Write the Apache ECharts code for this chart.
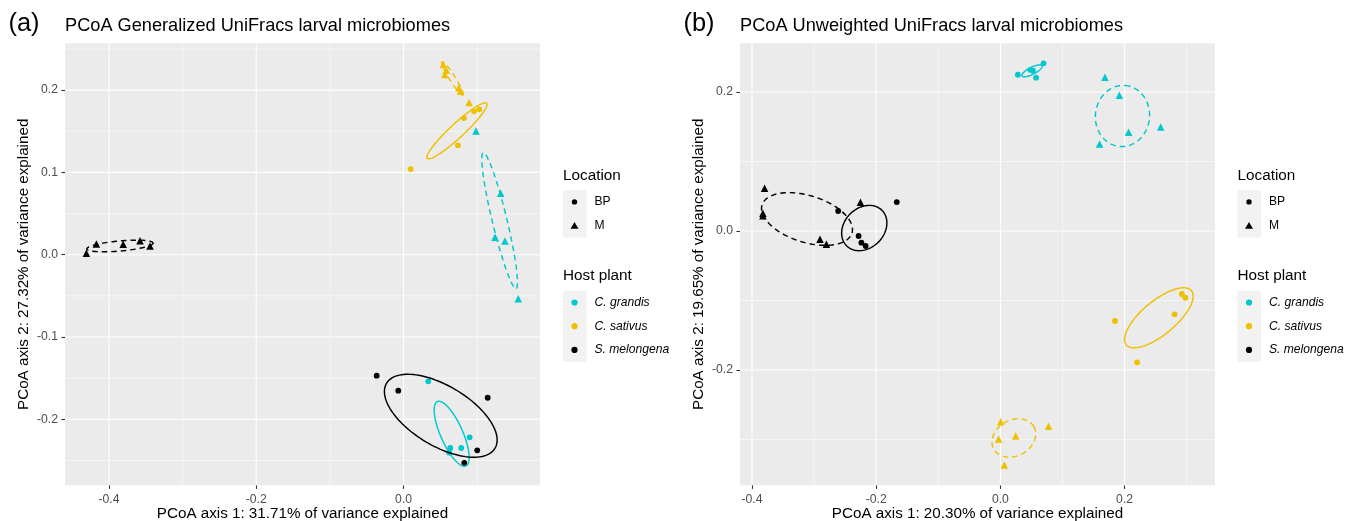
<!DOCTYPE html>
<html>
<head>
<meta charset="utf-8">
<script src="https://cdn.jsdelivr.net/npm/echarts@6/dist/echarts.min.js"></script>
<style>
  html, body { margin: 0; padding: 0; background: #ffffff; }
  #chart { width: 1357px; height: 521px; }
</style>
</head>
<body>
<div id="chart"></div>
<script>
// ---------- factor levels ----------
const hostLevels = ['C. grandis', 'C. sativus', 'S. melongena'];
const locationLevels = ['BP', 'M'];

// ---------- (a) Generalized UniFrac PCoA: sample coordinates [axis1, axis2] ----------
const genGrandisBP   = [[0.0335, -0.1538], [0.0897, -0.2219], [0.0783, -0.2349], [0.0634, -0.2349], [0.0620, -0.2406]];
const genGrandisM    = [[0.0983, 0.1503], [0.1318, 0.0746], [0.1241, 0.0211], [0.1376, 0.0166], [0.1557, -0.0535]];
const genSativusBP   = [[0.0820, 0.1660], [0.0956, 0.1742], [0.1028, 0.1767], [0.0738, 0.1329], [0.0096, 0.1041]];
const genSativusM    = [[0.054, 0.231], [0.058, 0.224], [0.056, 0.219], [0.075, 0.203], [0.077, 0.199], [0.089, 0.185]];
const genMelongenaBP = [[-0.0365, -0.1470], [-0.0072, -0.1652], [0.1142, -0.1738], [0.1000, -0.2377], [0.0824, -0.2531]];
const genMelongenaM  = [[-0.4306, 0.0017], [-0.4170, 0.0130], [-0.3806, 0.0126], [-0.3578, 0.0170], [-0.3442, 0.0106]];

// 95% ellipses: [centre x, centre y, major-axis end x, y, minor-axis end x, y]
const genEllipseGrandisBP   = [0.0653, -0.2176, 0.0847, -0.2567, 0.0516, -0.2231];
const genEllipseGrandisM    = [0.1304, 0.0416, 0.1526, -0.0408, 0.1401, 0.0436];
const genEllipseSativusBP   = [0.0725, 0.1505, 0.1128, 0.1840, 0.0790, 0.1443];
const genEllipseSativusM    = [0.0664, 0.2141, 0.0806, 0.1940, 0.0698, 0.2160];
const genEllipseMelongenaBP = [0.0505, -0.1957, 0.1241, -0.2352, 0.0296, -0.2270];
const genEllipseMelongenaM  = [-0.3850, 0.0106, -0.3400, 0.0142, -0.3844, 0.0045];

const genXRange = [-0.4596, 0.1852];
const genYRange = [-0.2802, 0.2569];
const genXTicks = [-0.4, -0.2, 0.0];
const genYTicks = [-0.2, -0.1, 0.0, 0.1, 0.2];
const genXMinor = [-0.3, -0.1, 0.1];
const genYMinor = [-0.25, -0.15, -0.05, 0.05, 0.15, 0.25];

// ---------- (b) Unweighted UniFrac PCoA ----------
const unwGrandisBP   = [[0.0282, 0.2249], [0.0523, 0.2306], [0.0480, 0.2320], [0.0575, 0.2206], [0.0696, 0.2413]];
const unwGrandisM    = [[0.1684, 0.2211], [0.1915, 0.1952], [0.2064, 0.1420], [0.2581, 0.1496], [0.1597, 0.1252]];
const unwSativusBP   = [[0.2921, -0.0906], [0.2979, -0.0960], [0.2805, -0.1199], [0.1845, -0.1295], [0.2202, -0.1889]];
const unwSativusM    = [[0.0005, -0.2744], [-0.0029, -0.2993], [0.0246, -0.2950], [0.0776, -0.2810], [0.0063, -0.3367]];
const unwMelongenaBP = [[-0.2612, 0.0288], [-0.1668, 0.0417], [-0.2283, -0.0072], [-0.2238, -0.0168], [-0.2169, -0.0216]];
const unwMelongenaM  = [[-0.3797, 0.0614], [-0.3825, 0.0255], [-0.3825, 0.0220], [-0.2905, -0.0120], [-0.2802, -0.0191], [-0.2254, 0.0413]];

const unwEllipseGrandisBP   = [0.0510, 0.2305, 0.0671, 0.2378, 0.0536, 0.2260];
const unwEllipseGrandisM    = [0.1966, 0.1655, 0.2006, 0.2094, 0.2401, 0.1626];
const unwEllipseSativusBP   = [0.2552, -0.1249, 0.3076, -0.0859, 0.2726, -0.1435];
const unwEllipseSativusM    = [0.0217, -0.2978, 0.0538, -0.2813, 0.0362, -0.3200];
const unwEllipseMelongenaBP = [-0.2192, 0.0043, -0.1907, 0.0298, -0.1965, -0.0160];
const unwEllipseMelongenaM  = [-0.3114, 0.0173, -0.2390, -0.0029, -0.3003, 0.0494];

const unwXRange = [-0.4193, 0.3456];
const unwYRange = [-0.3659, 0.2701];
const unwXTicks = [-0.4, -0.2, 0.0, 0.2];
const unwYTicks = [-0.2, 0.0, 0.2];
const unwXMinor = [-0.3, -0.1, 0.1, 0.3];
const unwYMinor = [-0.3, -0.1, 0.1];

// ---------- styling ----------
const hostColors = ['#00C8CC', '#EFC000', '#000000'];
const FONT = '"Liberation Sans", Arial, Helvetica, sans-serif';

const panels = [
  {
    tag: '(a)', title: 'PCoA Generalized UniFracs larval microbiomes',
    xName: 'PCoA axis 1: 31.71% of variance explained',
    yName: 'PCoA axis 2: 27.32% of variance explained',
    left: 65, legendX: 563,
    xRange: genXRange, yRange: genYRange,
    xTicks: genXTicks, yTicks: genYTicks, xMinor: genXMinor, yMinor: genYMinor,
    groups: [
      [0, 0, genGrandisBP, genEllipseGrandisBP], [0, 1, genGrandisM, genEllipseGrandisM],
      [1, 0, genSativusBP, genEllipseSativusBP], [1, 1, genSativusM, genEllipseSativusM],
      [2, 0, genMelongenaBP, genEllipseMelongenaBP], [2, 1, genMelongenaM, genEllipseMelongenaM]
    ]
  },
  {
    tag: '(b)', title: 'PCoA Unweighted UniFracs larval microbiomes',
    xName: 'PCoA axis 1: 20.30% of variance explained',
    yName: 'PCoA axis 2: 19.65% of variance explained',
    left: 740, legendX: 1237.5,
    xRange: unwXRange, yRange: unwYRange,
    xTicks: unwXTicks, yTicks: unwYTicks, xMinor: unwXMinor, yMinor: unwYMinor,
    groups: [
      [0, 0, unwGrandisBP, unwEllipseGrandisBP], [0, 1, unwGrandisM, unwEllipseGrandisM],
      [1, 0, unwSativusBP, unwEllipseSativusBP], [1, 1, unwSativusM, unwEllipseSativusM],
      [2, 0, unwMelongenaBP, unwEllipseMelongenaBP], [2, 1, unwMelongenaM, unwEllipseMelongenaM]
    ]
  }
];

const grids = [], xAxes = [], yAxes = [], series = [], graphics = [];
const fmt = v => v.toFixed(1);

panels.forEach((p, i) => {
  grids.push({ left: p.left, top: 43.3, width: 475, height: 442, show: true,
               backgroundColor: '#EBEBEB', borderWidth: 0, containLabel: false,
               outerBoundsMode: 'none' });

  const tickStyle = { color: '#333333', width: 1.1 };
  const labelStyle = { fontFamily: FONT, fontSize: 12.2, color: '#4D4D4D' };
  xAxes.push({
    type: 'value', gridIndex: i, min: p.xRange[0], max: p.xRange[1],
    name: p.xName, nameLocation: 'middle', nameGap: 21, nameMoveOverlap: false,
    nameTextStyle: { fontFamily: FONT, fontSize: 15.2, color: '#000' },
    axisLine: { show: false, onZero: false },
    axisTick: { show: true, customValues: p.xTicks, length: 3.6, lineStyle: tickStyle },
    axisLabel: Object.assign({ customValues: p.xTicks, formatter: fmt, margin: 8 }, labelStyle),
    splitLine: { show: false }
  });
  yAxes.push({
    type: 'value', gridIndex: i, min: p.yRange[0], max: p.yRange[1],
    name: p.yName, nameLocation: 'middle', nameGap: 34, nameMoveOverlap: false,
    nameTextStyle: { fontFamily: FONT, fontSize: 15.2, color: '#000' },
    axisLine: { show: false, onZero: false },
    axisTick: { show: true, customValues: p.yTicks, length: 3.6, lineStyle: tickStyle },
    axisLabel: Object.assign({ customValues: p.yTicks, formatter: fmt, margin: 7 }, labelStyle),
    splitLine: { show: false }
  });

  // panel gridlines (major + minor), drawn through the axis scales
  const gridData = [];
  p.xTicks.forEach(v => gridData.push([v, 0, 1]));
  p.xMinor.forEach(v => gridData.push([v, 0, 0]));
  p.yTicks.forEach(v => gridData.push([v, 1, 1]));
  p.yMinor.forEach(v => gridData.push([v, 1, 0]));
  series.push({
    type: 'custom', xAxisIndex: i, yAxisIndex: i, z: 1, silent: true, clip: false,
    data: gridData,
    renderItem: (params, api) => {
      const v = api.value(0), dir = api.value(1), major = api.value(2);
      const a = dir === 0 ? api.coord([v, p.yRange[0]]) : api.coord([p.xRange[0], v]);
      const b = dir === 0 ? api.coord([v, p.yRange[1]]) : api.coord([p.xRange[1], v]);
      return { type: 'line', shape: { x1: a[0], y1: a[1], x2: b[0], y2: b[1] },
               style: { stroke: '#FFFFFF', lineWidth: major ? 1.1 : 0.55 } };
    }
  });

  // sample points
  p.groups.forEach(([h, l, pts]) => {
    series.push({
      type: 'scatter', xAxisIndex: i, yAxisIndex: i, z: 3, silent: true,
      name: hostLevels[h] + ' / ' + locationLevels[l],
      symbol: l === 0 ? 'circle' : 'triangle',
      symbolSize: l === 0 ? 5.8 : 7.5,
      itemStyle: { color: hostColors[h], opacity: 1 },
      data: pts
    });
  });

  // confidence ellipses
  series.push({
    type: 'custom', xAxisIndex: i, yAxisIndex: i, z: 4, silent: true, clip: false,
    data: p.groups.map(([h, l, , e]) => e.concat([h, l])),
    renderItem: (params, api) => {
      const cx = api.value(0), cy = api.value(1);
      const ux = api.value(2) - cx, uy = api.value(3) - cy;
      const vx = api.value(4) - cx, vy = api.value(5) - cy;
      const h = api.value(6), l = api.value(7);
      const pts = [];
      for (let k = 0; k <= 120; k++) {
        const t = 2 * Math.PI * k / 120;
        pts.push(api.coord([cx + ux * Math.cos(t) + vx * Math.sin(t),
                            cy + uy * Math.cos(t) + vy * Math.sin(t)]));
      }
      return { type: 'polyline', shape: { points: pts },
               style: { fill: null, stroke: hostColors[h], lineWidth: 1.45,
                        lineDash: l === 1 ? [5.5, 4] : null } };
    }
  });

  // panel tag and title
  graphics.push({ type: 'text', x: p.left - 56.5, y: 24,
                  style: { text: p.tag, fontFamily: FONT, fontSize: 25.4, fill: '#000', verticalAlign: 'middle' } });
  graphics.push({ type: 'text', x: p.left, y: 25.5,
                  style: { text: p.title, fontFamily: FONT, fontSize: 18.2, fill: '#000', verticalAlign: 'middle' } });

  // legends
  const x0 = p.legendX;
  graphics.push({ type: 'text', x: x0, y: 176,
                  style: { text: 'Location', fontFamily: FONT, fontSize: 15.3, fill: '#000', verticalAlign: 'middle' } });
  graphics.push({ type: 'rect', shape: { x: x0, y: 190, width: 23.5, height: 47.6 }, style: { fill: '#F2F2F2' } });
  locationLevels.forEach((name, k) => {
    const cy = 201.9 + k * 23.8;
    if (k === 0) {
      graphics.push({ type: 'circle', shape: { cx: x0 + 11.5, cy: cy, r: 2.7 }, style: { fill: '#000' } });
    } else {
      graphics.push({ type: 'polygon', shape: { points: [[x0 + 11.5, cy - 3.8], [x0 + 15.5, cy + 3.1], [x0 + 7.5, cy + 3.1]] },
                      style: { fill: '#000' } });
    }
    graphics.push({ type: 'text', x: x0 + 31.5, y: cy,
                    style: { text: name, fontFamily: FONT, fontSize: 12.1, fill: '#000', verticalAlign: 'middle' } });
  });
  graphics.push({ type: 'text', x: x0, y: 275.7,
                  style: { text: 'Host plant', fontFamily: FONT, fontSize: 15.3, fill: '#000', verticalAlign: 'middle' } });
  graphics.push({ type: 'rect', shape: { x: x0, y: 290.7, width: 23.5, height: 71.2 }, style: { fill: '#F2F2F2' } });
  hostLevels.forEach((name, k) => {
    const cy = 302.5 + k * 23.7;
    graphics.push({ type: 'circle', shape: { cx: x0 + 11.5, cy: cy, r: 3.1 }, style: { fill: hostColors[k] } });
    graphics.push({ type: 'text', x: x0 + 31.5, y: cy,
                    style: { text: name, fontFamily: FONT, fontSize: 12.1, fontStyle: 'italic', fill: '#000', verticalAlign: 'middle' } });
  });
});

const chart = echarts.init(document.getElementById('chart'), null, { renderer: 'canvas' });
chart.setOption({
  animation: false,
  backgroundColor: '#FFFFFF',
  grid: grids,
  xAxis: xAxes,
  yAxis: yAxes,
  series: series,
  graphic: graphics
});
</script>
</body>
</html>
